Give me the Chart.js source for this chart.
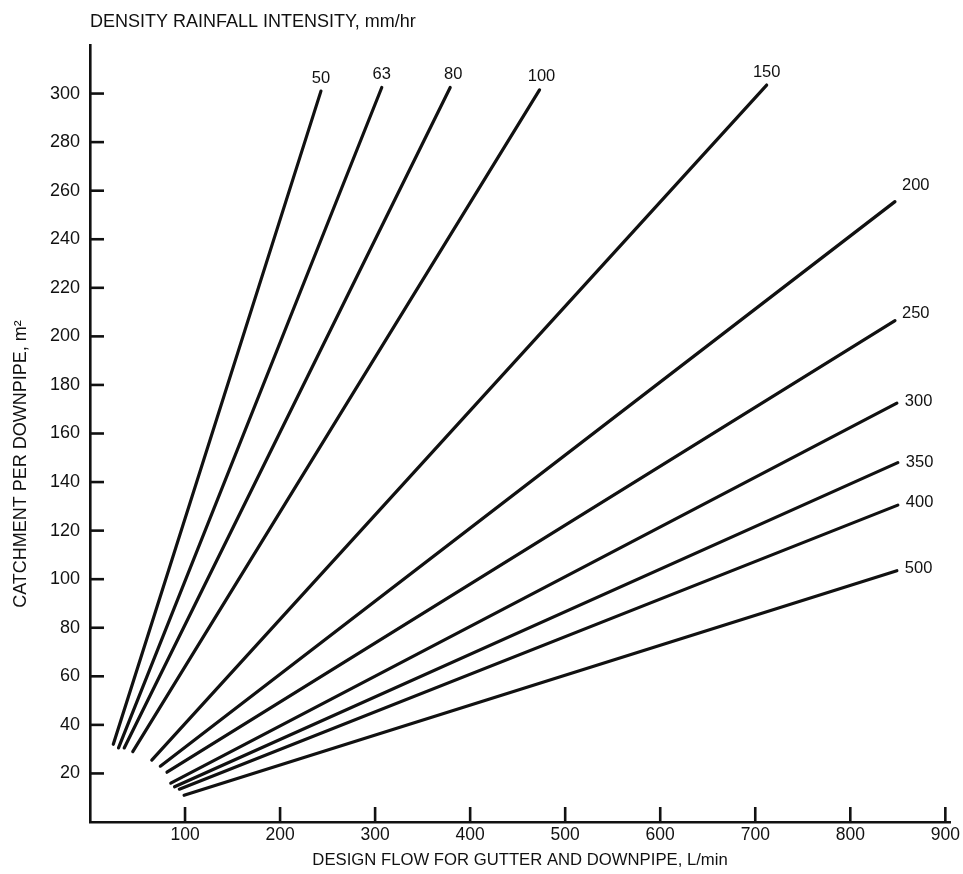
<!DOCTYPE html>
<html>
<head>
<meta charset="utf-8">
<script src="https://cdn.jsdelivr.net/npm/chart.js@4/dist/chart.umd.min.js"></script>
<style>
  html, body { margin: 0; padding: 0; background: #ffffff; }
  #wrap { width: 963px; height: 874px; }
</style>
</head>
<body>
<div id="wrap"><canvas id="c" width="963" height="874"></canvas></div>
<script>
// ---- data ----
const intensityLabels = ['50', '63', '80', '100', '150', '200', '250', '300', '350', '400', '500'];
const startFlow = [24.5, 30, 36, 45, 65, 74, 81, 85, 89, 94, 99];
const startArea = [32, 30.5, 30.5, 29, 25.5, 23, 20.5, 16, 14.5, 13.5, 11];
const endFlow   = [243, 307, 379, 473, 712, 847, 847, 849, 850, 850, 849];
const endArea   = [301, 302.5, 302.5, 301.5, 303.5, 255.5, 206.5, 172.5, 148, 130.5, 103.5];
const xTickValues = [100, 200, 300, 400, 500, 600, 700, 800, 900];
const yTickValues = [20, 40, 60, 80, 100, 120, 140, 160, 180, 200, 220, 240, 260, 280, 300];

const chartTitle = 'DENSITY RAINFALL INTENSITY, mm/hr';
const xTitle = 'DESIGN FLOW FOR GUTTER AND DOWNPIPE, L/min';
const yTitle = 'CATCHMENT PER DOWNPIPE, m\u00B2';

// ---- styling ----
const INK = '#111111';
const FONT = '"Liberation Sans", Arial, Helvetica, sans-serif';
const labelPlacement = [
  { dx: 0, dy: -13, align: 'center' },
  { dx: 0, dy: -13, align: 'center' },
  { dx: 3, dy: -13, align: 'center' },
  { dx: 2, dy: -13, align: 'center' },
  { dx: 0, dy: -13, align: 'center' },
  { dx: 7, dy: -16, align: 'left' },
  { dx: 7, dy: -7, align: 'left' },
  { dx: 8, dy: -2, align: 'left' },
  { dx: 8, dy: 0, align: 'left' },
  { dx: 8, dy: -3, align: 'left' },
  { dx: 8, dy: -2, align: 'left' }
];

const datasets = intensityLabels.map((lab, i) => ({
  label: lab,
  data: [
    { x: startFlow[i], y: startArea[i] },
    { x: endFlow[i], y: endArea[i] }
  ],
  borderColor: INK,
  borderWidth: 3.2,
  borderCapStyle: 'round',
  pointRadius: 0,
  pointHoverRadius: 0,
  fill: false,
  tension: 0
}));

const decor = {
  id: 'decor',
  afterDraw(chart) {
    const { ctx, chartArea: { left, bottom }, scales: { x, y } } = chart;
    ctx.save();
    ctx.strokeStyle = INK;
    ctx.lineWidth = 2.6;
    yTickValues.forEach(v => {
      const py = y.getPixelForValue(v);
      ctx.beginPath(); ctx.moveTo(left, py); ctx.lineTo(left + 14, py); ctx.stroke();
    });
    xTickValues.forEach(v => {
      const px = x.getPixelForValue(v);
      ctx.beginPath(); ctx.moveTo(px, bottom); ctx.lineTo(px, bottom - 15); ctx.stroke();
    });
    ctx.fillStyle = INK;
    ctx.textBaseline = 'middle';
    ctx.font = '16.5px ' + FONT;
    chart.data.datasets.forEach((ds, i) => {
      const pt = chart.getDatasetMeta(i).data[1];
      const p = labelPlacement[i];
      ctx.textAlign = p.align;
      ctx.fillText(ds.label, pt.x + p.dx, pt.y + p.dy);
    });
    ctx.font = '18px ' + FONT;
    ctx.textAlign = 'left';
    ctx.fillText(chartTitle, 90, 22);
    ctx.translate(21, 464);
    ctx.rotate(-Math.PI / 2);
    ctx.textAlign = 'center';
    ctx.fillText(yTitle, 0, 0);
    ctx.restore();
  }
};

new Chart(document.getElementById('c'), {
  type: 'line',
  data: { datasets },
  plugins: [decor],
  options: {
    responsive: false,
    animation: false,
    devicePixelRatio: 1,
    layout: { padding: { top: 45, right: 12, left: 0, bottom: 0 } },
    plugins: {
      legend: { display: false },
      tooltip: { enabled: false },
      title: { display: false }
    },
    scales: {
      x: {
        type: 'linear',
        min: 0,
        max: 905,
        afterBuildTicks: s => { s.ticks = xTickValues.map(v => ({ value: v })); },
        afterFit: s => { s.height = 52; },
        grid: { display: true, drawOnChartArea: false, drawTicks: false },
        border: { display: true, color: INK, width: 2.6 },
        ticks: { color: INK, font: { family: FONT, size: 17.5 }, padding: 3, maxRotation: 0, autoSkip: false },
        title: { display: true, text: xTitle, color: INK, font: { family: FONT, size: 16.7 }, padding: { top: 0, bottom: 4 } }
      },
      y: {
        type: 'linear',
        min: 0,
        max: 320,
        afterBuildTicks: s => { s.ticks = yTickValues.map(v => ({ value: v })); },
        afterFit: s => { s.width = 90; },
        grid: { display: true, drawOnChartArea: false, drawTicks: false },
        border: { display: true, color: INK, width: 2.6 },
        ticks: { color: INK, font: { family: FONT, size: 18 }, padding: 10, autoSkip: false },
        title: { display: false }
      }
    }
  }
});
</script>
</body>
</html>
